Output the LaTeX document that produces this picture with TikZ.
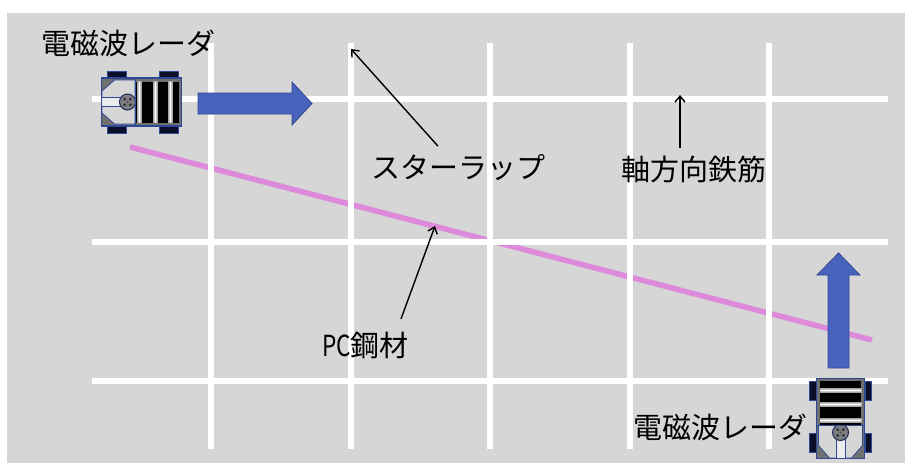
\documentclass[tikz,border=0pt]{standalone}
\usepackage{fontspec}
\usepackage{graphicx}
\newfontfamily\jpfont{Noto Sans CJK JP}
\usetikzlibrary{arrows.meta}

\definecolor{floor}{RGB}{214,214,214}
\definecolor{tendon}{RGB}{222,138,219}
\definecolor{moveblue}{RGB}{72,99,188}
\definecolor{moveedge}{RGB}{47,72,150}
\definecolor{rim}{RGB}{46,74,150}
\definecolor{bodygray}{RGB}{112,112,112}
\definecolor{panel}{RGB}{214,214,214}
\definecolor{stripc}{RGB}{235,235,235}
\definecolor{hubgray}{RGB}{125,125,130}
\definecolor{tyre}{RGB}{10,14,40}

\tikzset{
  lbl/.style={font=\jpfont\fontsize{29}{31}\selectfont, inner sep=0pt, text=black},
  ptr/.style={line width=1.4pt, draw=black, -{Straight Barb[length=6pt,width=10pt]}},
  bar/.style={draw=white, line width=6pt},
  pcline/.style={draw=tendon, line width=5.5pt},
  movearrow/.style={fill=moveblue, draw=moveedge, line width=0.8pt},
  % radar cart, front pointing to local +x
  rover/.pic={
    \foreach \a/\b in {-34/-15, 18/37}{
      \draw[fill=tyre, draw=rim, line width=0.8pt] (\a,-31) rectangle (\b,-24.5);
      \draw[fill=tyre, draw=rim, line width=0.8pt] (\a,24.5) rectangle (\b,31);
    }
    \draw[fill=bodygray, draw=rim, line width=1.2pt] (-40,-24) rectangle (40,24);
    % rear panel with cut corners
    \draw[fill=panel, draw=rim, line width=0.8pt]
      (-39.5,-11) -- (-27,-22) -- (-6.5,-22) -- (-6.5,22) -- (-27,22) -- (-39.5,11) -- cycle;
    \draw[fill=stripc, draw=rim, line width=0.8pt] (-40,-4.5) rectangle (-14,4.5);
    % hub
    \draw[fill=hubgray, draw=rim!60!black, line width=1pt] (-14,0) circle (8);
    \foreach \ang in {45,135,225,315} \fill[black!80] (-14,0) ++(\ang:4) circle (1.6);
    \fill[black!70] (-14,0) circle (1.2);
    % antenna block
    \fill[black] (-6.5,-20.5) rectangle (37.5,20.5);
    \draw[rim, line width=1pt] (-6.5,-24) -- (-6.5,24);
    \foreach \c in {-2,14,28.5}{
      \draw[fill=gray!45, draw=gray!70, line width=0.4pt] (\c-2,-20.5) rectangle (\c+2,20.5);
      \draw[white, line width=1pt] (\c,-20.5) -- (\c,20.5);
    }
  }
}

\begin{document}
\begin{tikzpicture}[x=1pt,y=-1pt]
\useasboundingbox (0,0) rectangle (905,463);
\fill[white] (0,0) rectangle (905,463);
\fill[floor] (7,13) rectangle (905,463);

% prestressing tendon
\draw[pcline] (130,147) -- (872,340);

% axial bars (horizontal) and stirrups (vertical)
\foreach \y in {98.5,242,381} \draw[bar] (92,\y) -- (888,\y);
\foreach \x in {211,350.5,490,629.5,769} \draw[bar] (\x,43) -- (\x,449);

% scanning directions
\draw[movearrow] (198,93) -- (292,93) -- (292,82) -- (312,103.5) -- (292,125) -- (292,114) -- (198,114) -- cycle;
\draw[movearrow] (828,368) -- (828,275) -- (817,275) -- (838.5,253) -- (860,275) -- (849,275) -- (849,368) -- cycle;

% radar carts
\pic at (141.5,102) {rover};
\pic[rotate=90] at (840.5,418.5) {rover};

% labels
\node[lbl] (radarA) at (128.5,43) {電磁波レーダ};
\node[lbl] (radarB) at (720.5,427) {電磁波レーダ};
\node[lbl] (stir) at (458.5,168) {スターラップ};
\node[lbl] (axial) at (693.5,169) {軸方向鉄筋};
\node[lbl] (pc) at (365.5,345) {\scalebox{0.78}[1]{PC}鋼材};

\coordinate (stirtip) at (351,49);
\coordinate (axialtip) at (680,95);
\coordinate (pctip) at (435,226);

\draw[ptr] ([shift={(-20.5,-8.5)}]stir.north) -- (stirtip);
\draw[ptr] ([shift={(-13.5,-7.5)}]axial.north) -- (axialtip);
\draw[ptr] ([shift={(35.5,-12.5)}]pc.north) -- (pctip);
\end{tikzpicture}
\end{document}
